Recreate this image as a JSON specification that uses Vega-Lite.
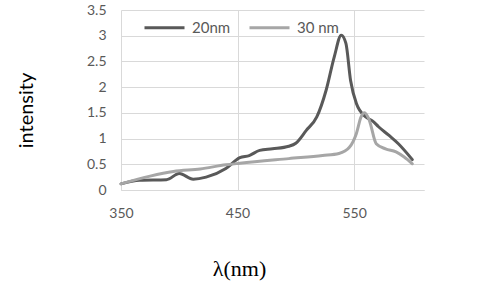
{
  "$schema": "https://vega.github.io/schema/vega-lite/v6.json",
  "width": 303,
  "height": 180,
  "autosize": {"type": "none"},
  "padding": {"left": 121, "top": 10, "right": 56, "bottom": 97},
  "background": "white",
  "config": {"view": {"stroke": null}},
  "data": {"values": [
    {"x": 350, "y": 0.12, "s": "20nm"},
    {"x": 366, "y": 0.19, "s": "20nm"},
    {"x": 389, "y": 0.2, "s": "20nm"},
    {"x": 400, "y": 0.32, "s": "20nm"},
    {"x": 412, "y": 0.21, "s": "20nm"},
    {"x": 423, "y": 0.25, "s": "20nm"},
    {"x": 440, "y": 0.42, "s": "20nm"},
    {"x": 452, "y": 0.63, "s": "20nm"},
    {"x": 460, "y": 0.67, "s": "20nm"},
    {"x": 469, "y": 0.77, "s": "20nm"},
    {"x": 480, "y": 0.8, "s": "20nm"},
    {"x": 494, "y": 0.85, "s": "20nm"},
    {"x": 500, "y": 0.91, "s": "20nm"},
    {"x": 509, "y": 1.16, "s": "20nm"},
    {"x": 518, "y": 1.42, "s": "20nm"},
    {"x": 526, "y": 1.94, "s": "20nm"},
    {"x": 533, "y": 2.59, "s": "20nm"},
    {"x": 539, "y": 3.01, "s": "20nm"},
    {"x": 543, "y": 2.85, "s": "20nm"},
    {"x": 547, "y": 2.13, "s": "20nm"},
    {"x": 552, "y": 1.68, "s": "20nm"},
    {"x": 560, "y": 1.42, "s": "20nm"},
    {"x": 566, "y": 1.34, "s": "20nm"},
    {"x": 571, "y": 1.23, "s": "20nm"},
    {"x": 580, "y": 1.06, "s": "20nm"},
    {"x": 588, "y": 0.9, "s": "20nm"},
    {"x": 600, "y": 0.59, "s": "20nm"},
    {"x": 350, "y": 0.12, "s": "30 nm"},
    {"x": 375, "y": 0.27, "s": "30 nm"},
    {"x": 395, "y": 0.36, "s": "30 nm"},
    {"x": 418, "y": 0.41, "s": "30 nm"},
    {"x": 440, "y": 0.49, "s": "30 nm"},
    {"x": 452, "y": 0.52, "s": "30 nm"},
    {"x": 494, "y": 0.61, "s": "30 nm"},
    {"x": 523, "y": 0.67, "s": "30 nm"},
    {"x": 537, "y": 0.71, "s": "30 nm"},
    {"x": 546, "y": 0.83, "s": "30 nm"},
    {"x": 552, "y": 1.1, "s": "30 nm"},
    {"x": 556, "y": 1.42, "s": "30 nm"},
    {"x": 559, "y": 1.5, "s": "30 nm"},
    {"x": 563, "y": 1.36, "s": "30 nm"},
    {"x": 569, "y": 0.9, "s": "30 nm"},
    {"x": 577, "y": 0.8, "s": "30 nm"},
    {"x": 586, "y": 0.74, "s": "30 nm"},
    {"x": 593, "y": 0.64, "s": "30 nm"},
    {"x": 600, "y": 0.51, "s": "30 nm"}
  ]},
  "mark": {"type": "line", "strokeWidth": 3, "interpolate": "monotone", "strokeCap": "round"},
  "encoding": {
    "x": {
      "field": "x", "type": "quantitative",
      "scale": {"domain": [350, 610], "nice": false, "zero": false},
      "axis": {
        "values": [350, 450, 550],
        "title": "λ(nm)",
        "titleFont": "Liberation Serif",
        "titleFontSize": 22,
        "titleFontWeight": "normal",
        "titleColor": "black",
        "titleX": 118,
        "titleY": 78,
        "titleBaseline": "middle",
        "titleAnchor": "middle",
        "labelFont": "Lato",
        "labelFontSize": 14,
        "labelColor": "#595959",
        "labelPadding": 16,
        "ticks": false,
        "domainColor": "#d9d9d9",
        "grid": true,
        "gridColor": "#d9d9d9",
        "labelFlush": false
      }
    },
    "y": {
      "field": "y", "type": "quantitative",
      "scale": {"domain": [0, 3.5], "nice": false},
      "axis": {
        "values": [0, 0.5, 1, 1.5, 2, 2.5, 3, 3.5],
        "labelExpr": "'' + datum.value",
        "title": "intensity",
        "titleFont": "Lato",
        "titleFontSize": 20,
        "titleFontWeight": "normal",
        "titleColor": "black",
        "titleX": -95,
        "titleY": 100,
        "titleAngle": -90,
        "titleBaseline": "middle",
        "titleAnchor": "middle",
        "labelFont": "Lato",
        "labelFontSize": 14,
        "labelColor": "#595959",
        "labelPadding": 15,
        "ticks": false,
        "domain": false,
        "grid": true,
        "gridColor": "#d9d9d9"
      }
    },
    "color": {
      "field": "s", "type": "nominal",
      "scale": {"domain": ["20nm", "30 nm"], "range": ["#595959", "#a6a6a6"]},
      "legend": {
        "title": null,
        "orient": "none",
        "direction": "horizontal",
        "legendX": 22,
        "legendY": -4,
        "symbolType": "stroke",
        "symbolSize": 1600,
        "symbolStrokeWidth": 3,
        "labelFont": "Lato",
        "labelFontSize": 15,
        "labelColor": "#595959",
        "labelOffset": 6,
        "columnPadding": 12
      }
    }
  }
}
